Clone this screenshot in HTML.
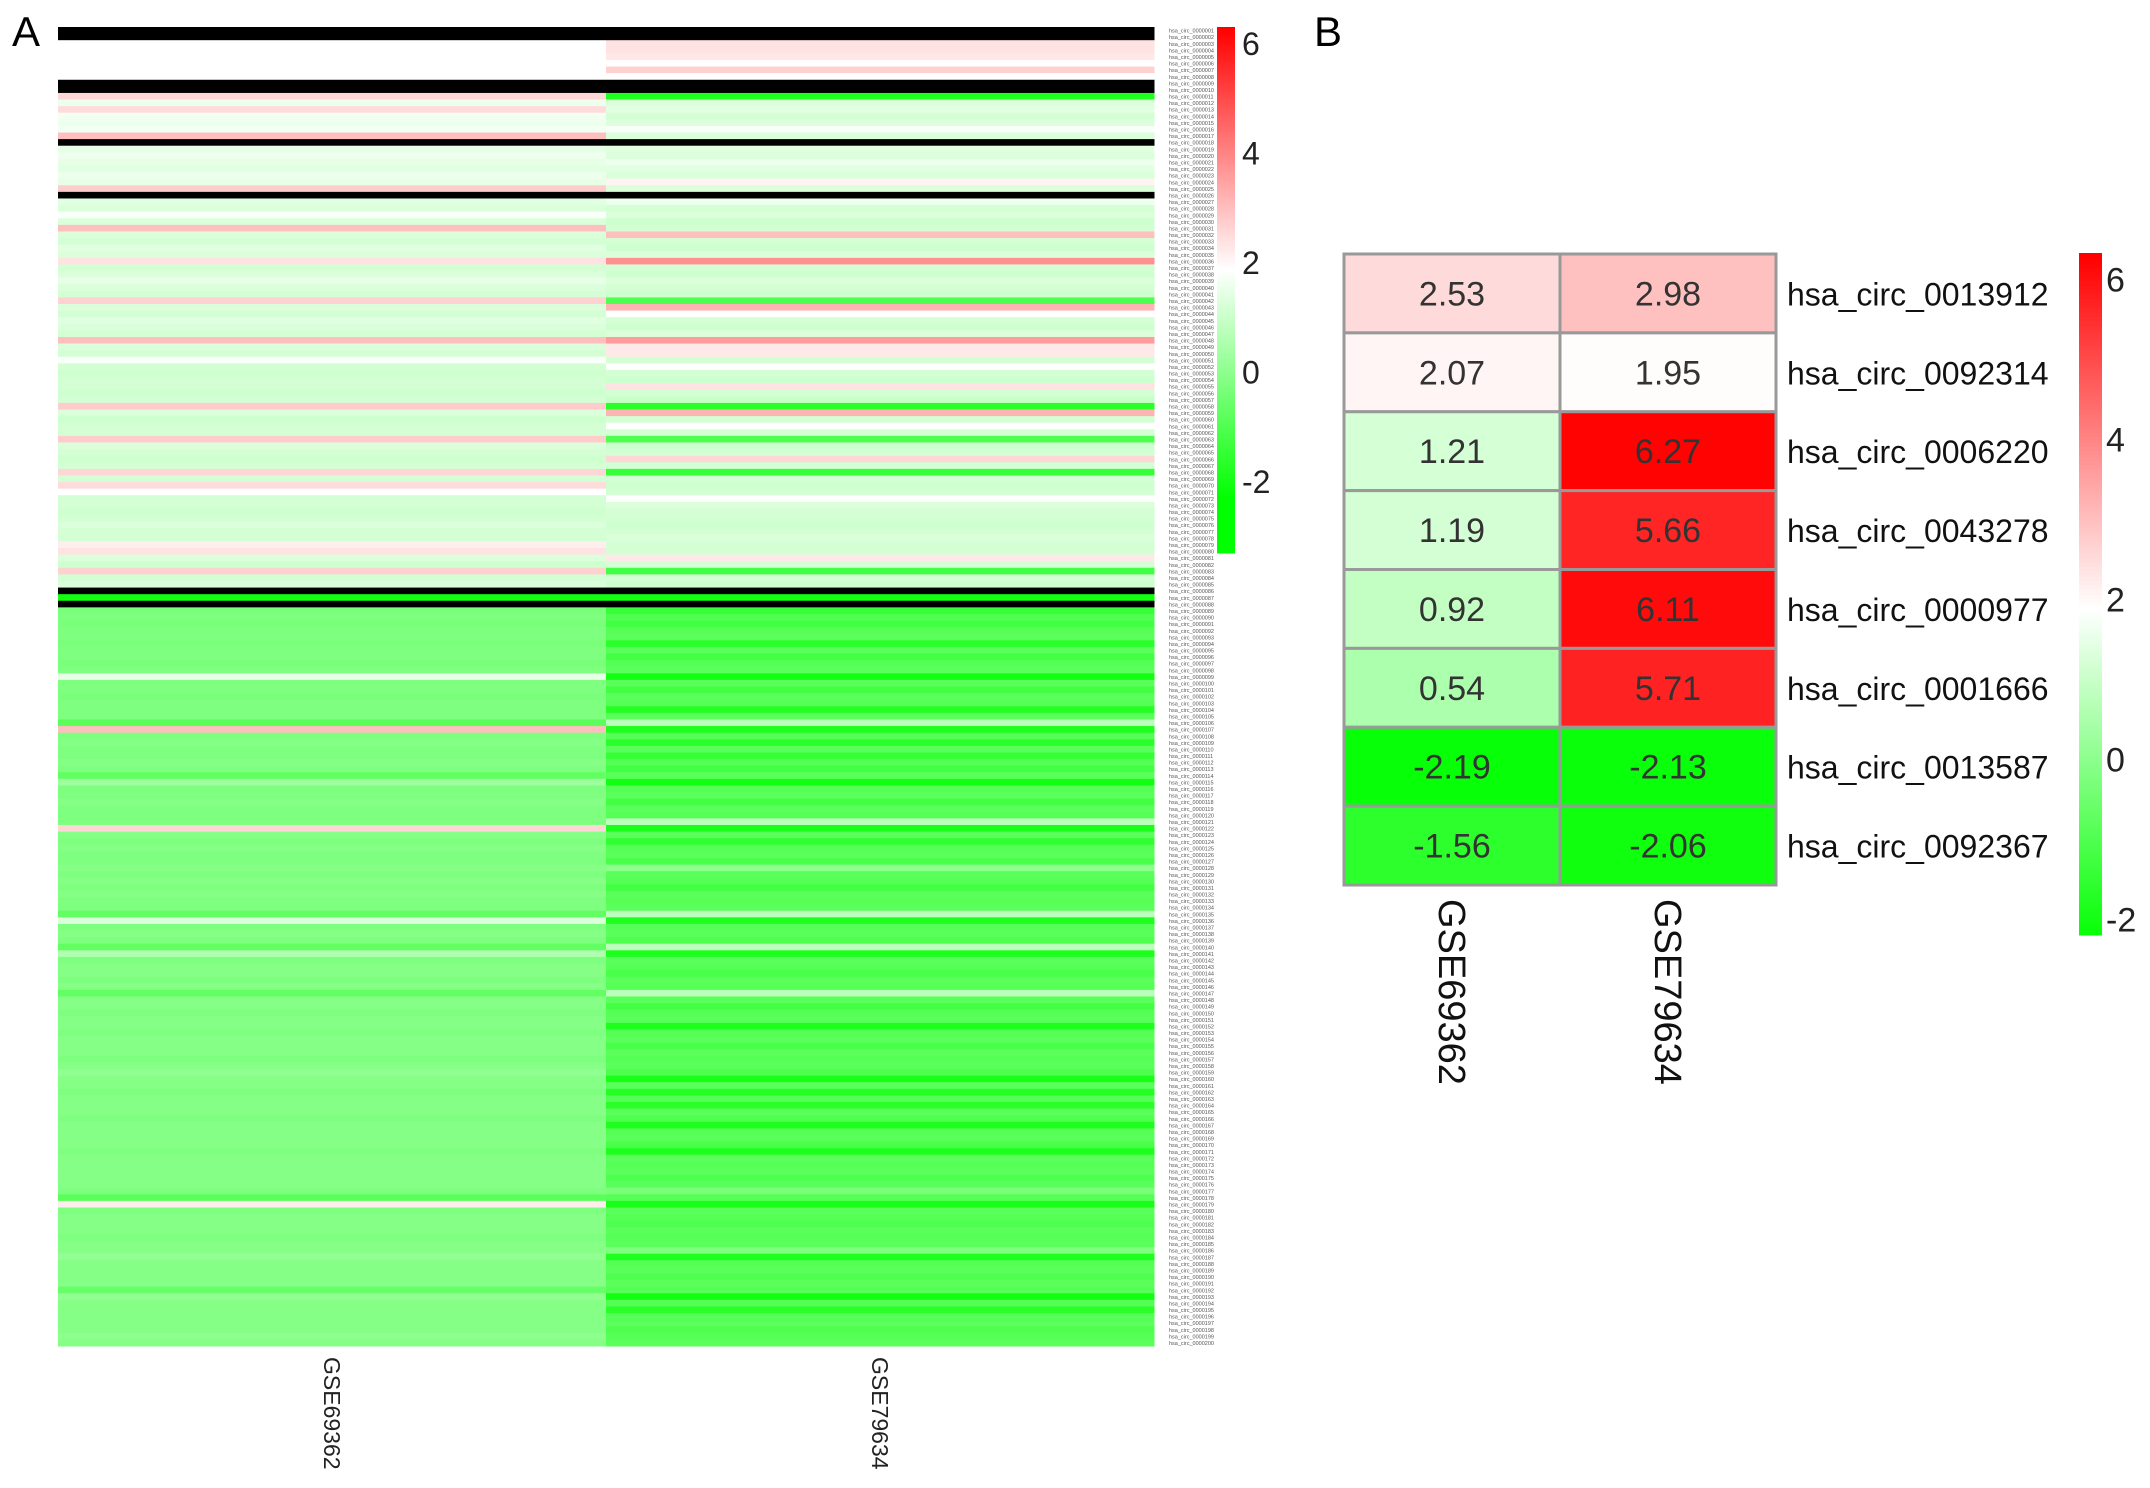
<!DOCTYPE html>
<html><head><meta charset="utf-8"><style>
html,body{margin:0;padding:0;background:#fff}
svg{display:block}
text{font-family:"Liberation Sans",Arial,sans-serif}
</style></head><body>
<svg id="fig" width="2150" height="1488" viewBox="0 0 2150 1488" xmlns="http://www.w3.org/2000/svg">
<rect width="2150" height="1488" fill="#fff"/>
<text x="12" y="46" font-size="42" fill="#000">A</text>
<text x="1314" y="46" font-size="42" fill="#000">B</text>
<g id="panelA"></g>
<g id="panelB"></g>
</svg>
<script>
// ---------- Panel A data ----------
const colsA = ["GSE69362","GSE79634"];
const valsA_L = [1.9,1.9,1.9,1.9,1.9,1.9,1.9,1.9,1.9,1.9,
2.6,1.6,2.5,1.7,1.6,1.7,3.0,1.9,1.5,1.6,
1.5,1.4,1.6,1.5,2.8,1.9,1.4,1.3,1.8,1.3,
3.0,1.3,1.2,1.4,1.3,2.4,1.2,1.3,1.5,1.3,
1.2,2.7,1.3,1.2,1.4,1.3,1.2,3.0,1.3,1.2,
1.8,1.2,1.1,1.2,1.2,1.1,1.2,2.8,1.3,1.1,
1.2,1.2,2.8,1.3,1.2,1.1,1.2,2.6,1.2,2.5,
1.9,1.2,1.2,1.1,1.2,1.3,1.2,1.2,2.2,2.4,
1.3,1.1,2.7,1.2,1.3,1.9,-2.0,1.9,-0.3,-0.2,
-0.3,-0.2,-0.2,-0.3,-0.2,-0.2,-0.3,-0.2,1.5,-0.2,
-0.2,-0.3,-0.2,-0.2,-0.2,-0.8,3.0,-0.2,-0.1,-0.2,
-0.2,-0.1,-0.2,-0.7,0.3,-0.2,-0.2,-0.1,-0.2,-0.2,
-0.2,2.6,-0.1,-0.2,-0.1,-0.2,-0.2,-0.1,-0.2,-0.1,
-0.2,-0.1,-0.2,-0.2,-0.7,1.3,-0.2,-0.1,-0.2,-0.7,
0.6,-0.2,-0.1,-0.1,-0.2,-0.1,-0.7,-0.1,-0.1,-0.2,
-0.1,-0.1,-0.2,-0.1,-0.1,-0.1,-0.2,-0.1,0.1,-0.1,
-0.1,-0.2,-0.1,-0.1,-0.1,-0.2,-0.1,-0.1,-0.1,-0.1,
-0.2,-0.1,-0.1,-0.1,-0.1,-0.1,-0.2,-0.8,2.2,-0.2,
-0.1,-0.1,-0.1,-0.2,-0.1,-0.1,0.1,-0.1,-0.1,-0.1,
-0.1,-0.6,0.1,-0.1,-0.1,-0.1,-0.1,-0.1,0.0,-0.1];
const valsA_R = [1.9,1.9,2.4,2.4,2.3,1.9,2.7,1.9,1.9,1.9,
-1.8,1.3,1.4,1.2,1.3,1.8,1.3,1.9,1.4,1.3,
1.6,1.4,1.3,2.1,1.3,1.9,1.6,1.2,1.3,1.1,
1.2,3.0,1.2,1.1,1.3,3.8,1.2,1.1,1.3,1.2,
1.1,-1.0,3.2,1.9,1.2,1.1,1.3,3.6,2.3,2.3,
1.2,1.9,1.2,1.1,2.4,1.2,1.0,-1.6,3.2,1.2,
1.9,1.2,-1.0,1.1,1.2,2.6,1.2,-1.4,1.2,1.1,
1.2,1.9,1.3,1.2,1.2,1.1,1.2,1.3,1.2,1.2,
2.3,1.2,-1.2,1.2,1.1,1.9,-2.0,1.9,-1.4,-1.0,
-1.2,-0.9,-0.8,-1.6,-0.8,-1.2,-0.9,-0.8,-2.0,-0.8,
-1.2,-0.8,-0.9,-1.7,-0.8,0.8,-1.8,-0.9,-1.6,-0.8,
-1.4,-0.9,-1.2,-0.8,-2.0,-0.9,-0.8,-1.2,-0.8,-0.9,
0.8,-1.9,-0.8,-1.5,-0.9,-0.8,-1.1,0.0,-0.8,-0.9,
-1.2,-0.8,-0.9,-0.8,0.8,-1.8,-0.9,-0.8,-1.0,0.8,
-1.8,-0.8,-0.9,-1.1,-0.8,-0.9,0.8,-0.8,-1.2,-0.9,
-0.8,-1.8,-0.9,-0.8,-1.1,-0.8,-0.9,-0.8,-1.0,-1.9,
-0.8,-1.7,-0.9,-1.6,-0.8,-1.0,-1.8,-0.9,-0.8,-1.1,
-1.8,-0.8,-0.9,-0.8,-1.0,-0.8,-0.3,-0.9,-1.9,-0.8,
-0.9,-1.0,-0.8,-0.9,-0.8,-0.2,-1.8,-0.9,-0.8,-1.0,
-0.8,-0.9,-2.0,-0.9,-1.6,-0.9,-0.8,-1.0,-0.9,-0.8];
const blackRowsA = [0,1,8,9,17,25,85,87];
const ticksA = [6,4,2,0,-2];

// ---------- Panel B data ----------
const colsB = ["GSE69362","GSE79634"];
const rowsB = ["hsa_circ_0013912","hsa_circ_0092314","hsa_circ_0006220","hsa_circ_0043278","hsa_circ_0000977","hsa_circ_0001666","hsa_circ_0013587","hsa_circ_0092367"];
const valsB_1 = [2.53,2.07,1.21,1.19,0.92,0.54,-2.19,-1.56];
const valsB_2 = [2.98,1.95,6.27,5.66,6.11,5.71,-2.13,-2.06];
const ticksB = [6,4,2,0,-2];

const NS="http://www.w3.org/2000/svg";
function mk(tag,attrs,parent){const e=document.createElementNS(NS,tag);for(const k in attrs)e.setAttribute(k,attrs[k]);parent.appendChild(e);return e;}
function color(v){
  const lo=-2.3, mid=1.9, hi=6.3;
  let r,g,b;
  if(v<mid){let t=Math.min(1,(mid-v)/(mid-lo));r=Math.round(255*(1-t));g=255;b=r;}
  else{let t=Math.min(1,(v-mid)/(hi-mid));r=255;g=Math.round(255*(1-t));b=g;}
  return `rgb(${r},${g},${b})`;
}
// ---------- Panel A ----------
const A=document.getElementById('panelA');
const ax0=58, ax1=1154, ay0=27, ay1=1346;
const nA=valsA_L.length, rh=(ay1-ay0)/nA, cw=(ax1-ax0)/colsA.length;
const yA=i=>ay0+i*rh, xA=j=>ax0+j*cw;
[valsA_L,valsA_R].forEach((arr,j)=>{
  arr.forEach((v,i)=>{
    const r=mk('rect',{x:xA(j),y:yA(i),width:cw+0.5,height:rh+0.5,fill:blackRowsA.includes(i)?'#000':color(v)},A);
    
    
  });
});
for(let i=0;i<nA;i++){
  const t=mk('text',{x:1169,y:yA(i)+rh*0.85,'font-size':5.5,fill:'#555'},A);
  t.textContent='hsa_circ_'+String(i+1).padStart(7,'0');
  
  
}
colsA.forEach((c,j)=>{
  const cx=xA(j)+cw/2-8;
  const t=mk('text',{x:0,y:0,'font-size':23,fill:'#222',transform:`translate(${cx},1357) rotate(90)`},A);
  t.textContent=c;
  
  
});
// colorbar A
const cbA={x:1217,w:18,top:27,bot:553,vTop:6.31,vBot:-3.3};
const yCbA=v=>cbA.top+(cbA.vTop-v)/(cbA.vTop-cbA.vBot)*(cbA.bot-cbA.top);
for(let y=cbA.top;y<cbA.bot;y+=2){
  const v=cbA.vTop-(y-cbA.top)/(cbA.bot-cbA.top)*(cbA.vTop-cbA.vBot);
  const r=mk('rect',{x:cbA.x,y:y,width:cbA.w,height:2.5,fill:color(v)},A);
  
  
}
ticksA.forEach(tv=>{
  const t=mk('text',{x:1242,y:yCbA(tv)+11,'font-size':32,fill:'#222'},A);
  t.textContent=String(tv);
  
  
});
// ---------- Panel B ----------
const B=document.getElementById('panelB');
const bx0=1344, bx1=1776, by0=254, by1=885;
const bcw=(bx1-bx0)/2, brh=(by1-by0)/rowsB.length;
const xB=j=>bx0+j*bcw, yB=i=>by0+i*brh;
[valsB_1,valsB_2].forEach((arr,j)=>{
  arr.forEach((v,i)=>{
    const r=mk('rect',{x:xB(j),y:yB(i),width:bcw,height:brh,fill:color(v),stroke:'#999','stroke-width':3},B);
    
    
    const t=mk('text',{x:xB(j)+bcw/2,y:yB(i)+brh/2+12,'font-size':34,'text-anchor':'middle',fill:'#333'},B);
    t.textContent=v.toFixed(2);
    
    
  });
});
rowsB.forEach((n,i)=>{
  const t=mk('text',{x:1787,y:yB(i)+brh/2+12,'font-size':32,fill:'#111'},B);
  t.textContent=n;
  
  
});
colsB.forEach((c,j)=>{
  const cx=xB(j)+bcw/2-13;
  const t=mk('text',{x:0,y:0,'font-size':38,fill:'#111',transform:`translate(${cx},899) rotate(90)`},B);
  t.textContent=c;
  
  
});
const cbB={x:2079,w:23,top:253,bot:934,vTop:6.33,vBot:-2.18};
const yCbB=v=>cbB.top+(cbB.vTop-v)/(cbB.vTop-cbB.vBot)*(cbB.bot-cbB.top);
for(let y=cbB.top;y<cbB.bot;y+=2){
  const v=cbB.vTop-(y-cbB.top)/(cbB.bot-cbB.top)*(cbB.vTop-cbB.vBot);
  const r=mk('rect',{x:cbB.x,y:y,width:cbB.w,height:2.5,fill:color(v)},B);
  
  
}
ticksB.forEach(tv=>{
  const t=mk('text',{x:2106,y:yCbB(tv)+12,'font-size':34,fill:'#222'},B);
  t.textContent=String(tv);
  
  
});
</script>
</body></html>
